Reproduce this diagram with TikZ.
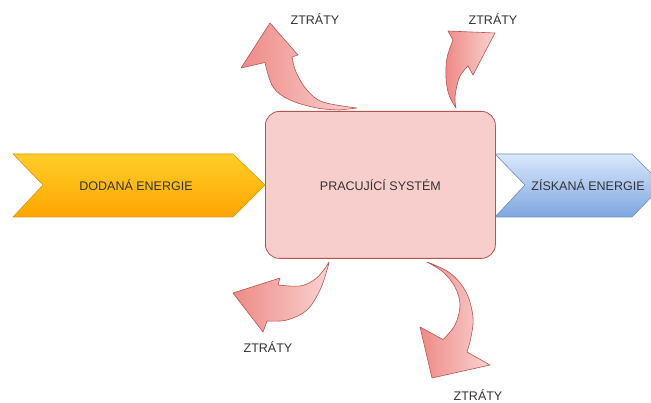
\documentclass[tikz,border=0pt]{standalone}
\usepackage{fontspec}
\setmainfont{Liberation Sans}
\begin{document}
\definecolor{txt}{HTML}{333333}
\definecolor{sysfill}{HTML}{F8CECC}
\definecolor{sysline}{HTML}{B85450}
\definecolor{lossdark}{HTML}{EE8A87}
\definecolor{losslight}{HTML}{F9D3D1}
\definecolor{inTop}{HTML}{FFCD28}
\definecolor{inBot}{HTML}{FFA500}
\definecolor{inLine}{HTML}{D79B00}
\definecolor{outTop}{HTML}{DAE8FC}
\definecolor{outBot}{HTML}{7EA6E0}
\definecolor{outLine}{HTML}{6C8EBF}
\begin{tikzpicture}[x=1pt,y=-1pt,
  lbl/.style={text=txt,font=\fontsize{12.5}{14}\selectfont,inner sep=0pt},
  inflow/.style={draw=inLine,top color=inTop,bottom color=inBot,line width=0.6pt,line join=round},
  outflow/.style={draw=outLine,top color=outTop,bottom color=outBot,line width=0.6pt,line join=round},
  loss/.style={draw=sysline,left color=lossdark,right color=losslight,line width=0.6pt,line join=round},
  sysbox/.style={draw=sysline,fill=sysfill,line width=0.8pt,rounded corners=14pt}]
\useasboundingbox (0,0) rectangle (651,403);
\clip (0,0) rectangle (651,403);

% energy supplied (left chevron)
\path[inflow] (13,154) -- (233,154) -- (265,185) -- (233,217) -- (13,217) -- (43,185) -- cycle;
% energy obtained (right chevron)
\path[outflow] (495,154) -- (632,154) -- (663,185) -- (632,217) -- (495,217) -- (525,185) -- cycle;

% losses: curved arrows leaving the system
\path[loss] (357,108) -- plot[smooth,tension=0.6] coordinates {(357,108) (323,102) (307,90) (296,72) (292,57)}
  -- (298,55) -- (270,23) -- (241,68) -- (265,62.5)
  -- plot[smooth,tension=0.6] coordinates {(265,62.5) (273,87) (290,100) (317,108) (340,110)} -- cycle;
\path[loss] (456,108) -- plot[smooth,tension=0.6] coordinates {(456,108) (449,95) (446,78) (447,58) (453,40)}
  -- (448,31) -- (495,33) -- (473,75) -- (468,66)
  -- plot[smooth,tension=0.6] coordinates {(468,66) (460,76) (456,90) (455,100) (456,108)} -- cycle;
\path[loss] (329,262) -- plot[smooth,tension=0.6] coordinates {(329,262) (323,271) (314,280) (300,286) (278,285)}
  -- (280,278) -- (233,293) -- (263,332) -- (267,321)
  -- plot[smooth,tension=0.6] coordinates {(267,321) (287,320) (307,310) (320,290) (327,270) (329,262)} -- cycle;
\path[loss] (427,262) -- plot[smooth,tension=0.6] coordinates {(427,262) (450,273) (466,292) (473,317) (471,337) (467,352)}
  -- (490,365) -- (432,378) -- (420,327) -- (443,339.5)
  -- plot[smooth,tension=0.6] coordinates {(443,339.5) (455,325) (460,305) (455,287) (443,272) (427,262)} -- cycle;

% working system
\node[sysbox,minimum width=230pt,minimum height=147pt,anchor=north west] (sys) at (265,111) {};
\node[lbl] (sysT) at (sys.center) {PRACUJÍCÍ SYSTÉM};

\node[lbl] (inT) at (136,185.5) {DODANÁ ENERGIE};
\node[lbl] (outT) at (588,185.5) {ZÍSKANÁ ENERGIE};

\node[lbl] (l1) at (315,19) {ZTRÁTY};
\node[lbl] (l2) at (493,19) {ZTRÁTY};
\node[lbl] (l3) at (268,347.5) {ZTRÁTY};
\node[lbl] (l4) at (478,395) {ZTRÁTY};
\end{tikzpicture}
\end{document}
